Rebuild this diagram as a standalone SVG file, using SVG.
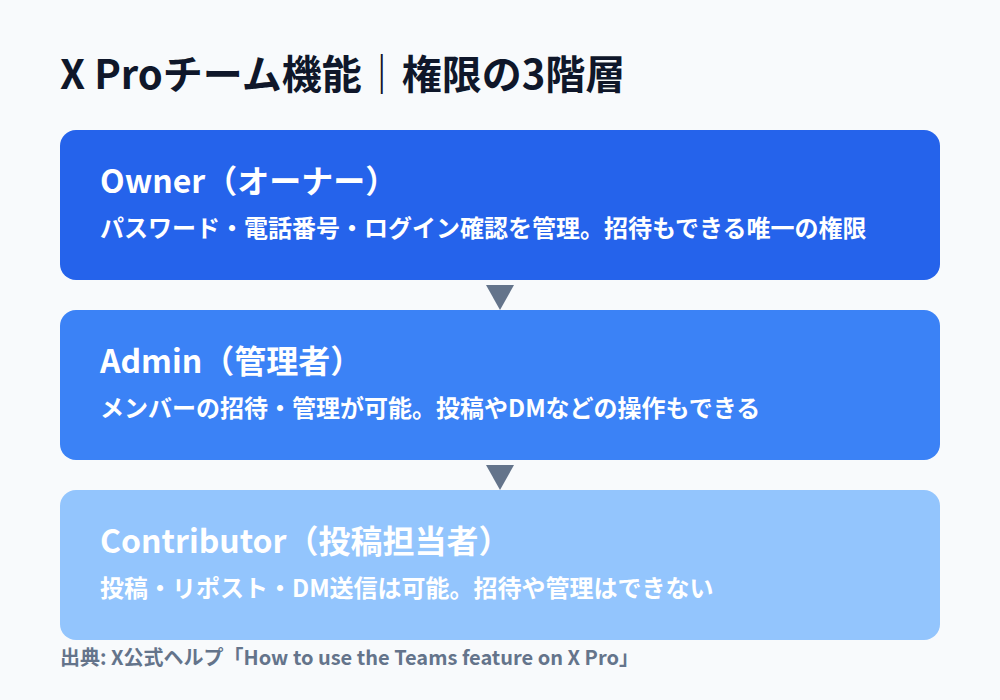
<svg xmlns="http://www.w3.org/2000/svg" width="1000" height="700" viewBox="0 0 1000 700">
<style>
.t{font-family:"Noto Sans CJK JP","Noto Sans",sans-serif;font-weight:700}
.title{font-size:40px;fill:#0F172A}
.h{font-size:32px;fill:#FFFFFF}
.d{font-size:24px;fill:#FFFFFF}
.src{font-size:20px;fill:#64748B}
.arrow{fill:#64748B}
</style>
<rect x="0" y="0" width="1000" height="700" fill="#F8FAFC"/>
<text class="t title" x="60" y="89">X Proチーム機能｜権限の3階層</text>
<g id="owner">
<rect x="60" y="130" width="880" height="150" rx="16" fill="#2563EB"/>
<text class="t h" x="100" y="193">Owner（オーナー）</text>
<text class="t d" x="100" y="237">パスワード・電話番号・ログイン確認を管理。招待もできる唯一の権限</text>
</g>
<g id="admin">
<rect x="60" y="310" width="880" height="150" rx="16" fill="#3B82F6"/>
<text class="t h" x="100" y="373">Admin（管理者）</text>
<text class="t d" x="100" y="417">メンバーの招待・管理が可能。投稿やDMなどの操作もできる</text>
</g>
<g id="contributor">
<rect x="60" y="490" width="880" height="150" rx="16" fill="#93C5FD"/>
<text class="t h" x="100" y="553">Contributor（投稿担当者）</text>
<text class="t d" x="100" y="597">投稿・リポスト・DM送信は可能。招待や管理はできない</text>
</g>
<g id="connectors">
<polygon class="arrow" points="486,285 514,285 500,310"/>
<polygon class="arrow" points="486,465 514,465 500,490"/>
</g>
<text class="t src" x="60" y="665">出典: X公式ヘルプ「How to use the Teams feature on X Pro」</text>
</svg>
